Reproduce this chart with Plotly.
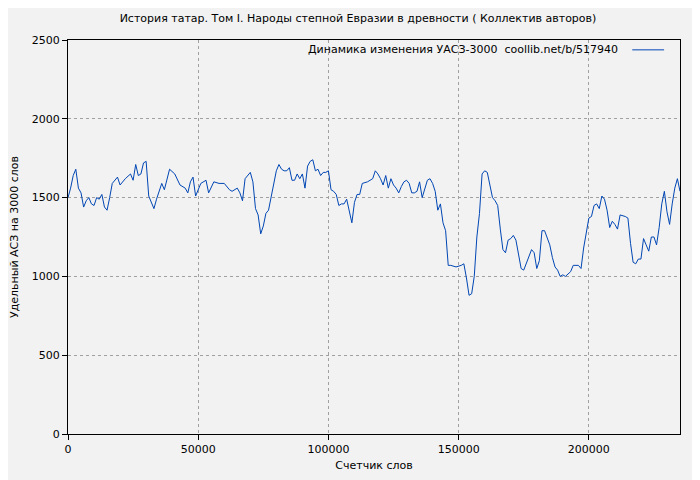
import plotly.graph_objects as go

xThousands = [0,1,2,3,4,5,6,7,8,9,10,11,12,13,14,15,16,17,19,20,22,24,25,26,27,28,29,30,31,33,34,36,37,39,41,43,45,46,47,48,49,51,53,54,56,58,60,62,63,65,66,67,68,70,71,72,73,74,75,76,77,78,79,80,81,82,83,84,85,86,87,88,89,90,91,92,93,94,95,96,97,98,99,100,101,102,103,104,105,106,107,108,109,110,111,112,113,115,117,118,119,120,121,122,123,124,125,126,127,128,129,130,131,132,133,134,135,136,137,138,139,140,141,142,143,144,145,146,147,149,151,152,153,154,155,156,157,158,159,160,161,162,163,164,165,166,167,168,169,170,171,172,173,174,175,176,177,178,179,180,181,182,183,184,185,186,187,188,189,190,191,193,194,196,197,198,199,200,201,202,203,204,205,206,207,208,209,210,211,212,214,215,216,217,218,219,220,221,222,223,224,225,226,227,228,229,230,231,232,233,234,235]
yValues = [1500,1560,1640,1680,1560,1530,1440,1480,1500,1460,1450,1500,1490,1520,1440,1420,1500,1590,1630,1580,1620,1650,1610,1710,1640,1650,1720,1730,1510,1430,1490,1590,1550,1680,1650,1580,1560,1530,1600,1630,1510,1590,1610,1530,1600,1590,1590,1550,1540,1560,1530,1480,1620,1660,1600,1430,1390,1270,1320,1400,1420,1500,1600,1670,1710,1680,1670,1670,1690,1610,1610,1650,1620,1650,1560,1700,1730,1740,1670,1680,1640,1660,1660,1670,1550,1540,1520,1450,1460,1460,1490,1420,1340,1470,1520,1520,1590,1600,1620,1670,1650,1620,1580,1640,1560,1620,1580,1560,1530,1570,1600,1610,1590,1530,1530,1540,1600,1500,1560,1610,1620,1590,1540,1420,1460,1340,1290,1070,1070,1060,1070,1080,990,880,890,1000,1250,1400,1650,1670,1660,1590,1500,1480,1450,1300,1170,1150,1230,1240,1260,1230,1150,1050,1040,1080,1130,1170,1150,1050,1100,1290,1290,1240,1200,1120,1060,1040,1000,1010,1000,1030,1070,1070,1050,1180,1290,1370,1380,1450,1460,1430,1510,1490,1420,1310,1350,1330,1300,1390,1380,1370,1210,1090,1080,1110,1110,1240,1200,1160,1250,1250,1200,1310,1460,1540,1410,1330,1460,1560,1620,1540]
xValues = [v * 1000 for v in xThousands]
legendText = "Динамика изменения УАСЗ-3000  coollib.net/b/517940"

fig = go.Figure()
fig.add_trace(go.Scatter(x=xValues, y=yValues, mode="lines", name=legendText,
    showlegend=False, line=dict(color="#0046b4", width=1)))

axisStyle = dict(showline=True, linecolor="black", linewidth=1, mirror=True,
    showgrid=True, gridcolor="#a0a0a0", griddash="dot", gridwidth=1,
    ticks="outside", ticklen=5, tickcolor="black", zeroline=False,
    tickfont=dict(size=11), title_font=dict(size=11))

fig.update_layout(
    width=700, height=480,
    paper_bgcolor="#f2f2f2", plot_bgcolor="#f2f2f2",
    font=dict(family="DejaVu Sans", size=11, color="black"),
    margin=dict(l=60, r=28, t=32, b=54, autoexpand=False),
    title=dict(text="История татар. Том I. Народы степной Евразии в древности ( Коллектив авторов)",
        x=0.5, xanchor="center", y=0.978, yanchor="middle", font=dict(size=11)),
    xaxis=dict(axisStyle, range=[0, 235000], dtick=50000, tickformat="d",
        title=dict(text="Счетчик слов", standoff=6)),
    yaxis=dict(axisStyle, range=[0, 2500], dtick=500,
        title=dict(text="Удельный АСЗ на 3000 слов", standoff=12)),
)

# legend drawn as text + sample line, text left of sample as in the reference
fig.add_annotation(text=legendText, xref="paper", yref="paper", x=0.902, y=0.975,
    xanchor="right", yanchor="middle", showarrow=False, font=dict(size=11))
fig.add_shape(type="line", xref="paper", yref="paper", x0=0.922, x1=0.974, y0=0.975, y1=0.975,
    line=dict(color="#0046b4", width=1))

fig.write_html("out.html")
